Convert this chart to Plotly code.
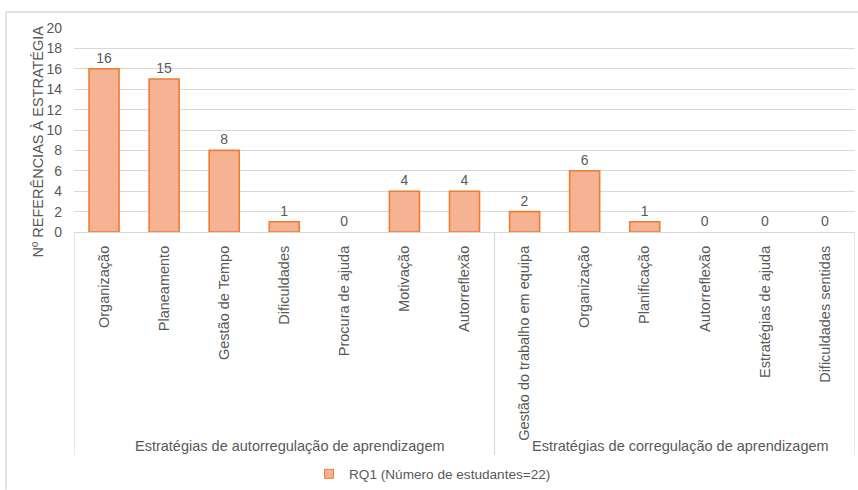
import plotly.graph_objects as go

# Strategy groups and the individual strategies within each group
group_names = ["Estratégias de autorregulação de aprendizagem",
               "Estratégias de corregulação de aprendizagem"]
group_sizes = [7, 6]
strategies = ["Organização", "Planeamento", "Gestão de Tempo", "Dificuldades",
              "Procura de ajuda", "Motivação", "Autorreflexão",
              "Gestão do trabalho em equipa", "Organização", "Planificação",
              "Autorreflexão", "Estratégias de ajuda", "Dificuldades sentidas"]
references = [16, 15, 8, 1, 0, 4, 4, 2, 6, 1, 0, 0, 0]

series_name = "RQ1 (Número de estudantes=22)"
y_title = "Nº REFERÊNCIAS À ESTRATÉGIA"

W, H = 858, 490
L, R, T, B = 74, 3, 28, 257
PW, PH = W - L - R, H - T - B

grey_text = "#595959"
grid = "#d9d9d9"
bar_fill = "#F5B394"
bar_edge = "#ED7D31"
font_family = "Liberation Sans, Arial, sans-serif"

positions = list(range(len(strategies)))

def py(pixel_y):
    """Pixel row -> paper y coordinate."""
    return (H - B - pixel_y) / PH

def px(pixel_x):
    """Pixel column -> paper x coordinate."""
    return (pixel_x - L) / PW

fig = go.Figure()
fig.add_trace(go.Bar(
    x=positions,
    y=references,
    name=series_name,
    marker=dict(color=bar_fill,
                line=dict(color=bar_edge,
                          width=[1.6 if v > 0 else 0 for v in references])),
    width=0.5,
    text=[str(v) for v in references],
    textposition="outside",
    textfont=dict(size=14, color=grey_text, family=font_family),
    cliponaxis=False,
    showlegend=False,
))

# Legend entry with a small square swatch
fig.add_trace(go.Scatter(
    x=[None], y=[None], mode="markers", name=series_name,
    marker=dict(symbol="square", size=9, color=bar_fill,
                line=dict(color=bar_edge, width=1)),
    showlegend=True,
))

fig.update_layout(
    width=W, height=H,
    margin=dict(l=L, r=R, t=T, b=B),
    paper_bgcolor="white", plot_bgcolor="white",
    font=dict(family=font_family, color=grey_text, size=14),
    showlegend=True,
    legend=dict(orientation="h", x=px(309), xanchor="left", y=py(474), yanchor="middle",
                font=dict(size=13.6, color=grey_text), itemwidth=30,
                bgcolor="rgba(0,0,0,0)"),
    xaxis=dict(
        range=[-0.5, len(strategies) - 0.5],
        tickmode="array", tickvals=positions, ticktext=strategies,
        tickangle=-90,
        tickfont=dict(size=14.5, color=grey_text),
        ticklabelstandoff=7,
        showline=True, linecolor=grid, linewidth=1,
        ticks="", showgrid=False, zeroline=False,
    ),
    yaxis=dict(
        range=[0, 20], dtick=2,
        showgrid=True, gridcolor=grid, gridwidth=1,
        zeroline=False, showline=False,
        tickfont=dict(size=14, color=grey_text),
        ticks="", ticklabelstandoff=11,
    ),
)

# Vertical axis title
fig.add_annotation(x=px(38), y=py(142), xref="paper", yref="paper",
                   text=y_title, textangle=-90, showarrow=False,
                   xanchor="center", yanchor="middle",
                   font=dict(size=14.5, color=grey_text))

# Group dividers below the category axis and group names
divider_bottom = py(457)
bounds = [-0.5]
for n in group_sizes:
    bounds.append(bounds[-1] + n)
for xb in bounds:
    fig.add_shape(type="line", xref="x", yref="paper", x0=xb, x1=xb,
                  y0=0, y1=divider_bottom, line=dict(color=grid, width=1.2))
for name, a, b in zip(group_names, bounds[:-1], bounds[1:]):
    fig.add_annotation(x=(a + b) / 2 + 0.1, y=py(448), xref="x", yref="paper",
                       text=name, showarrow=False, yanchor="middle",
                       font=dict(size=14.5, color=grey_text))

# Outer chart frame (left and top edges)
fig.add_shape(type="line", xref="paper", yref="paper", x0=px(6), x1=px(6),
              y0=py(12), y1=py(492), line=dict(color=grid, width=1.5))
fig.add_shape(type="line", xref="paper", yref="paper", x0=px(6), x1=px(860),
              y0=py(12), y1=py(12), line=dict(color=grid, width=1.5))

fig.write_html("out.html")
